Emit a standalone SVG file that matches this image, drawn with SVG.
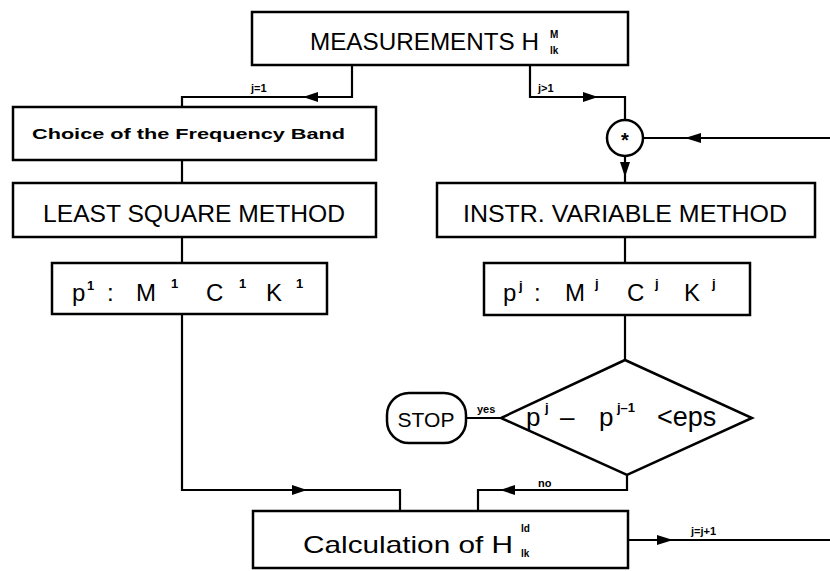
<svg xmlns="http://www.w3.org/2000/svg" width="830" height="571" viewBox="0 0 830 571">
<style>
.box{fill:#fff;stroke:#000;stroke-width:2.5}
.ln{fill:none;stroke:#000;stroke-width:2.2}
.ah{fill:#000;stroke:none}
.t{font-family:"Liberation Sans",Arial,sans-serif;fill:#000}
.big{font-size:24px}
.lbl{font-size:11px;font-weight:bold}
.sm{font-size:10px;font-weight:bold}
.sup{font-size:13px;font-weight:bold}
</style>
<rect width="830" height="571" fill="#fff"/>
<g id="connectors">
  <polyline class="ln" points="352,65 352,97 182,97 182,107"/>
  <polygon class="ah" points="303,97 318,92 318,102"/>
  <polyline class="ln" points="530,65 530,97 625,97 625,120"/>
  <polygon class="ah" points="598,97 583,92 583,102"/>
  <line class="ln" x1="830" y1="138" x2="643" y2="138"/>
  <polygon class="ah" points="685,138 701,133 701,143"/>
  <line class="ln" x1="625" y1="156" x2="625" y2="183"/>
  <polygon class="ah" points="625,177 620,162 630,162"/>
  <line class="ln" x1="182" y1="160" x2="182" y2="183"/>
  <line class="ln" x1="182" y1="237" x2="182" y2="263"/>
  <line class="ln" x1="625" y1="237" x2="625" y2="263"/>
  <line class="ln" x1="625" y1="315" x2="625" y2="360"/>
  <polyline class="ln" points="182,314 182,490 400,490 400,511"/>
  <polygon class="ah" points="307,490 292,485 292,495"/>
  <line class="ln" x1="466" y1="418" x2="501" y2="418"/>
  <polyline class="ln" points="627,475 627,490 478,490 478,511"/>
  <polygon class="ah" points="500,490 515,485 515,495"/>
  <line class="ln" x1="628" y1="540" x2="830" y2="540"/>
  <polygon class="ah" points="673,540 657,535 657,545"/>
  <text class="t lbl" x="251" y="92">j=1</text>
  <text class="t lbl" x="538" y="92">j&gt;1</text>
  <text class="t lbl" x="477" y="413">yes</text>
  <text class="t lbl" x="538" y="487">no</text>
  <text class="t lbl" x="691" y="535">j=j+1</text>
</g>
<g id="measurements">
  <rect class="box" x="252" y="12" width="376" height="53"/>
  <text class="t big" x="310" y="50" textLength="229" lengthAdjust="spacingAndGlyphs">MEASUREMENTS H</text>
  <text class="t sm" x="550" y="38">M</text>
  <text class="t sm" x="550" y="54">lk</text>
</g>
<g id="choice">
  <rect class="box" x="13" y="107" width="363" height="53"/>
  <text class="t" x="32" y="139" font-size="14" font-weight="bold" textLength="313" lengthAdjust="spacingAndGlyphs">Choice of the Frequency Band</text>
</g>
<g id="lsm">
  <rect class="box" x="13" y="183" width="363" height="54"/>
  <text class="t big" x="43" y="222" textLength="302" lengthAdjust="spacingAndGlyphs">LEAST SQUARE METHOD</text>
</g>
<g id="p1">
  <rect class="box" x="52" y="263" width="275" height="51"/>
  <text class="t big" x="72" y="301">p</text>
  <text class="t sup" x="87" y="290">1</text>
  <text class="t big" x="107" y="301">:</text>
  <text class="t big" x="136" y="301">M</text>
  <text class="t sup" x="171" y="288">1</text>
  <text class="t big" x="206" y="301">C</text>
  <text class="t sup" x="239" y="288">1</text>
  <text class="t big" x="266" y="301">K</text>
  <text class="t sup" x="296" y="288">1</text>
</g>
<g id="star">
  <circle cx="625" cy="138" r="18" fill="#fff" stroke="#000" stroke-width="2.5"/>
  <text class="t" x="625" y="147" font-size="20" font-weight="bold" text-anchor="middle">*</text>
</g>
<g id="ivm">
  <rect class="box" x="437" y="183" width="378" height="54"/>
  <text class="t big" x="463" y="222" textLength="324" lengthAdjust="spacingAndGlyphs">INSTR. VARIABLE METHOD</text>
</g>
<g id="pj">
  <rect class="box" x="484" y="263" width="266" height="52"/>
  <text class="t big" x="503" y="301">p</text>
  <text class="t sup" x="519" y="290">j</text>
  <text class="t big" x="534" y="301">:</text>
  <text class="t big" x="565" y="301">M</text>
  <text class="t sup" x="595" y="288">j</text>
  <text class="t big" x="627" y="301">C</text>
  <text class="t sup" x="655" y="288">j</text>
  <text class="t big" x="684" y="301">K</text>
  <text class="t sup" x="712" y="288">j</text>
</g>
<g id="decision">
  <polygon class="box" points="625,360 752,418 627,475 501,418"/>
  <text class="t" x="526" y="426" font-size="26">p</text>
  <text class="t sup" x="545" y="412">j</text>
  <text class="t" x="560" y="426" font-size="26">–</text>
  <text class="t" x="599" y="426" font-size="26">p</text>
  <text class="t sup" x="617" y="412">j–1</text>
  <text class="t" x="657" y="426" font-size="27">&lt;eps</text>
</g>
<g id="stop">
  <rect class="box" x="387" y="393" width="79" height="50" rx="22"/>
  <text class="t" x="426" y="427" font-size="21" text-anchor="middle">STOP</text>
</g>
<g id="calc">
  <rect class="box" x="253" y="511" width="375" height="57"/>
  <text class="t" x="303" y="553" font-size="24" textLength="210" lengthAdjust="spacingAndGlyphs">Calculation of H</text>
  <text class="t sm" x="521" y="532">Id</text>
  <text class="t sm" x="521" y="557">lk</text>
</g>
</svg>
